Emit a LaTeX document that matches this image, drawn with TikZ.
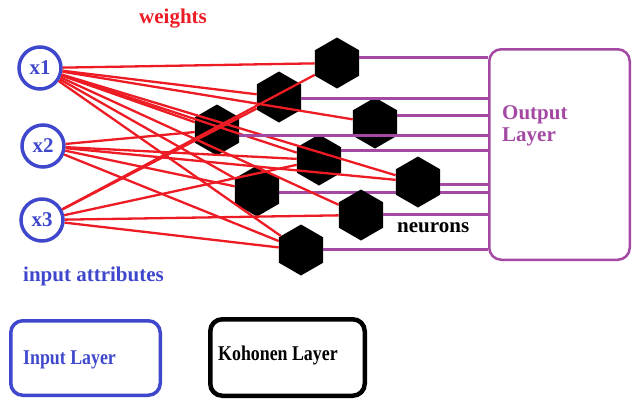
\documentclass[tikz,border=0pt]{standalone}
\usepackage{fontspec}
\setmainfont{Liberation Serif}
\newfontfamily\narrowserif[FakeStretch=0.85]{Liberation Serif}
\usetikzlibrary{shapes.geometric}

\definecolor{inblue}{RGB}{63,72,204}
\definecolor{wred}{RGB}{237,28,36}
\definecolor{outpurple}{RGB}{163,73,164}

\pgfdeclarelayer{back}
\pgfsetlayers{back,main}

\begin{document}
\begin{tikzpicture}[
  x=1pt, y=-1pt,
  every node/.style={inner sep=0pt, font=\fontsize{21}{24}\selectfont\bfseries},
  inp/.style={circle, draw=inblue, line width=3.5pt, minimum size=42pt, text=inblue},
  neuron/.style={regular polygon, regular polygon sides=6, shape border rotate=30,
                 fill=black, minimum size=51pt},
  wline/.style={draw=wred, line width=2.3pt},
  outlink/.style={draw=outpurple, line width=3pt},
  layerbox/.style={draw, rounded corners=12pt, line width=3.5pt},
  lbl/.style={anchor=base west}]

  \useasboundingbox (0,0) rectangle (632,399);

  % ---- input units --------------------------------------------------------
  \node[inp] (x1) at (40,68)  {x1};
  \node[inp] (x2) at (43,146) {x2};
  \node[inp] (x3) at (42,220) {x3};

  % ---- kohonen neurons ----------------------------------------------------
  \node[neuron] (n1) at (337,63)  {};
  \node[neuron] (n2) at (279,97)  {};
  \node[neuron] (n3) at (217,130) {};
  \node[neuron] (n4) at (375,123) {};
  \node[neuron] (n5) at (319,160) {};
  \node[neuron] (n6) at (257,191) {};
  \node[neuron] (n7) at (418,182) {};
  \node[neuron] (n8) at (361,215) {};
  \node[neuron] (n9) at (301,250) {};

  % ---- output layer -------------------------------------------------------
  \node[layerbox, draw=outpurple, line width=2.5pt, minimum width=140.5pt,
        minimum height=210.5pt] (out) at (559.5,154.5) {};
  \node[lbl, text=outpurple] (outlbl) at (502,119) {Output};
  \node[lbl, text=outpurple] (outlbl2) at (502,141) {Layer};

  % ---- weights ------------------------------------------------------------
  \foreach \a/\b in {x1/n1, x1/n2, x1/n3, x1/n4, x1/n5, x1/n6, x1/n7, x1/n8, x1/n9,
                     x2/n3, x2/n5, x2/n6, x2/n7, x2/n9,
                     x3/n1, x3/n2, x3/n5, x3/n8, x3/n9}
    \draw[wline] (\a) -- (\b);

  % ---- links to the output layer ------------------------------------------
  \foreach \n/\dy in {n1/6pt, n2/-1pt, n3/-5pt, n4/8pt, n5/10pt, n7/-2pt, n8/1pt, n9/1pt}
    \draw[outlink] ([yshift=\dy]\n.east) -- ([yshift=\dy]\n.east -| out.west);
  \begin{pgfonlayer}{back}
    \draw[outlink] ([yshift=-1pt]n6.east) -- ([yshift=-1pt]n6.east -| out.west);
  \end{pgfonlayer}

  % ---- labels -------------------------------------------------------------
  \node[lbl, text=wred]   (wlbl)  at (139,23)  {weights};
  \node[lbl, text=inblue] (attr)  at (23,281)  {input attributes};
  \node[lbl]              (nlbl)  at (397,232) {neurons};

  % ---- legend boxes -------------------------------------------------------
  \node[layerbox, draw=inblue, minimum width=149.5pt, minimum height=74.5pt]
    (inbox) at (85.5,358) {};
  \node[lbl, text=inblue, font=\fontsize{21}{24}\selectfont\narrowserif\bfseries]
    (inlbl) at (23,364) {Input Layer};
  \node[layerbox, line width=4.5pt, minimum width=154.5pt, minimum height=76.5pt]
    (kohbox) at (287.5,357.5) {};
  \node[lbl, font=\fontsize{21}{24}\selectfont\narrowserif\bfseries]
    (kohlbl) at (218,360) {Kohonen Layer};
\end{tikzpicture}
\end{document}
